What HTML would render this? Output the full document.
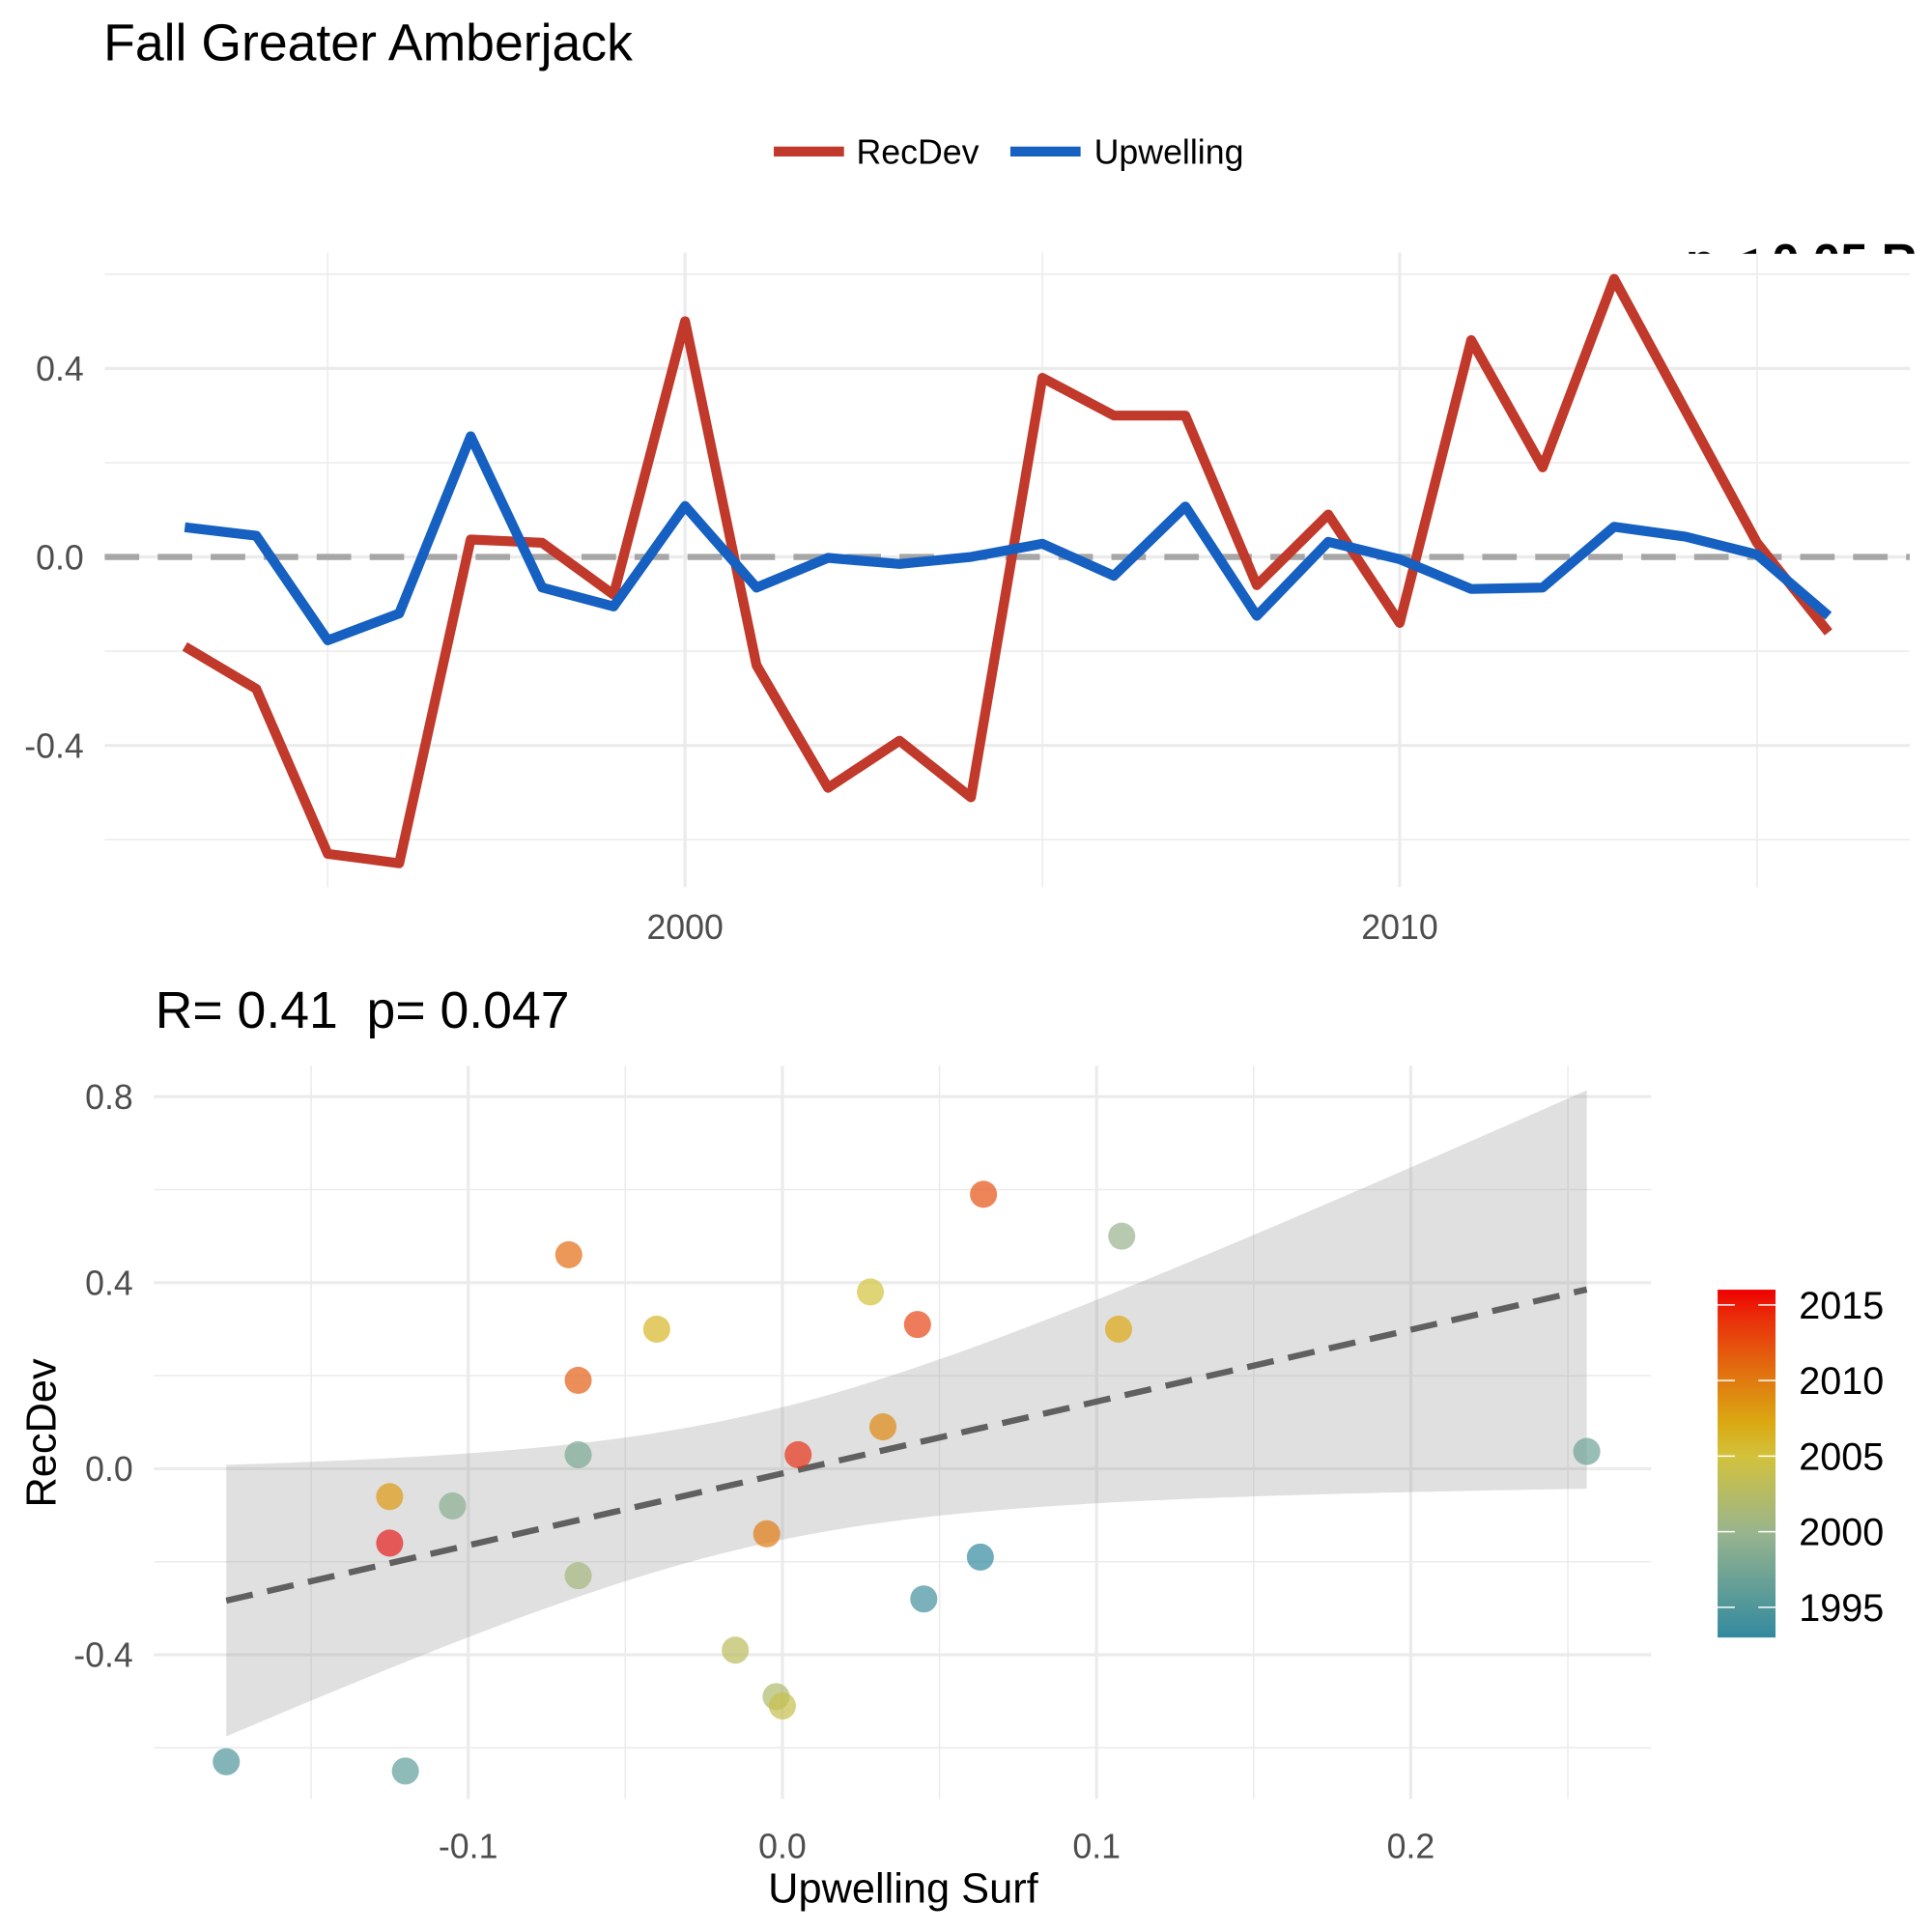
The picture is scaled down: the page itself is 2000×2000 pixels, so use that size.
<!DOCTYPE html>
<html><head><meta charset="utf-8"><style>html,body{margin:0;padding:0;background:#fff}svg{display:block;font-family:"Liberation Sans",Arial,sans-serif}</style></head>
<body>
<svg id="chart" width="2000" height="2000" viewBox="0 0 1568 1568" xmlns="http://www.w3.org/2000/svg">
<defs>
<linearGradient id="cbar" x1="0" y1="1" x2="0" y2="0">
<stop offset="0" stop-color="#328a9f"/><stop offset="0.3" stop-color="#98b48e"/><stop offset="0.52" stop-color="#d2c23c"/><stop offset="0.62" stop-color="#dba812"/><stop offset="0.74" stop-color="#e07a10"/><stop offset="0.92" stop-color="#ea2e0a"/><stop offset="1" stop-color="#ee0000"/>
</linearGradient>
<clipPath id="pclip"><rect x="0" y="180" width="1568" height="26"/></clipPath>
</defs>
<text x="84" y="49" font-size="42" fill="#000">Fall Greater Amberjack</text>
<g>
<line x1="628" y1="123" x2="685" y2="123" stroke="#c0392b" stroke-width="8"/>
<text x="695" y="133" font-size="28">RecDev</text>
<line x1="820" y1="123" x2="877" y2="123" stroke="#1560c0" stroke-width="8"/>
<text x="888" y="133" font-size="28">Upwelling</text>
</g>
<text x="1368" y="226" font-size="40" font-weight="bold" clip-path="url(#pclip)">p &lt; 0.05 R</text>
<g id="topg"></g>
<text x="126" y="834" font-size="42" xml:space="preserve">R= 0.41  p= 0.047</text>
<g id="botg"></g>
<g>
<rect x="1394" y="1046.7" width="47" height="282.3" fill="url(#cbar)"/>
<g id="cbticks"></g>
</g>
<text x="733" y="1544" font-size="34" text-anchor="middle">Upwelling Surf</text>
<text transform="translate(45,1163) rotate(-90)" font-size="34" text-anchor="middle">RecDev</text>
</svg>
<script>
const years=[1993,1994,1995,1996,1997,1998,1999,2000,2001,2002,2003,2004,2005,2006,2007,2008,2009,2010,2011,2012,2013,2014,2015,2016];
const recdev=[-0.19,-0.28,-0.63,-0.65,0.037,0.03,-0.08,0.50,-0.23,-0.49,-0.39,-0.51,0.38,0.30,0.30,-0.06,0.09,-0.14,0.46,0.19,0.59,0.31,0.03,-0.16];
const upwelling=[0.063,0.045,-0.177,-0.12,0.256,-0.065,-0.105,0.108,-0.065,-0.002,-0.015,0.0,0.028,-0.04,0.107,-0.125,0.032,-0.005,-0.068,-0.065,0.064,0.043,0.005,-0.125];
const topYTicks=[0.4,0.0,-0.4];
const topXTicks=[2000,2010];
const botXTicks=[-0.1,0.0,0.1,0.2];
const botYTicks=[0.8,0.4,0.0,-0.4];
const cbTicks=[1995,2000,2005,2010,2015];
const NS="http://www.w3.org/2000/svg";
function mk(tag,attrs,parent){const e=document.createElementNS(NS,tag);for(const k in attrs)e.setAttribute(k,attrs[k]);parent.appendChild(e);return e;}
const topG=document.getElementById('topg'),botG=document.getElementById('botg');
const tx=y=>556+(y-2000)*58, ty=v=>452-v*382.5;
const TL=85,TR=1550,TT=205,TB=720;
for(let v=-0.6;v<=0.61;v+=0.2){const l=mk('line',{x1:TL,x2:TR,y1:ty(v),y2:ty(v),stroke:'#ebebeb','stroke-width':Math.abs(Math.round(v*10))%4===0?2.5:1.2},topG);}
for(let y=1995;y<=2015;y+=5){const l=mk('line',{x1:tx(y),x2:tx(y),y1:TT,y2:TB,stroke:'#ebebeb','stroke-width':y%10===0?2.5:1.2},topG);}
topYTicks.forEach(v=>{const t=mk('text',{x:68,y:ty(v)+10,'font-size':28,fill:'#4d4d4d','text-anchor':'end'},topG);t.textContent=v.toFixed(1);});
topXTicks.forEach(v=>{const t=mk('text',{x:tx(v),y:762,'font-size':28,fill:'#4d4d4d','text-anchor':'middle'},topG);t.textContent=v;});
const zl=mk('line',{x1:TL,x2:TR,y1:ty(0),y2:ty(0),stroke:'#a6a6a6','stroke-width':5,'stroke-dasharray':'28 15'},topG);

const rl=mk('polyline',{points:years.map((y,i)=>tx(y)+','+ty(recdev[i])).join(' '),fill:'none',stroke:'#c0392b','stroke-width':8,'stroke-linejoin':'round'},topG);

const ul=mk('polyline',{points:years.map((y,i)=>tx(y)+','+ty(upwelling[i])).join(' '),fill:'none',stroke:'#1560c0','stroke-width':8,'stroke-linejoin':'round'},topG);

const bx=u=>635+u*2550, by=v=>1192-v*377.5;
const BL=125,BR=1340,BT=865,BB=1460;
for(let v=-0.6;v<=0.81;v+=0.2){const l=mk('line',{x1:BL,x2:BR,y1:by(v),y2:by(v),stroke:'#ebebeb','stroke-width':Math.abs(Math.round(v*10))%4===0?2.5:1.2},botG);}
for(let u=-0.15;u<=0.26;u+=0.05){const k=Math.round(u*100);const l=mk('line',{x1:bx(u),x2:bx(u),y1:BT,y2:BB,stroke:'#ebebeb','stroke-width':k%10===0?2.5:1.2},botG);}
botXTicks.forEach(v=>{const t=mk('text',{x:bx(v),y:1508,'font-size':28,fill:'#4d4d4d','text-anchor':'middle'},botG);t.textContent=v.toFixed(1);});
botYTicks.forEach(v=>{const t=mk('text',{x:108,y:by(v)+10,'font-size':28,fill:'#4d4d4d','text-anchor':'end'},botG);t.textContent=v.toFixed(1);});
const n=years.length,mx=upwelling.reduce((a,b)=>a+b)/n,my=recdev.reduce((a,b)=>a+b)/n;
let sxx=0,sxy=0;for(let i=0;i<n;i++){sxx+=(upwelling[i]-mx)**2;sxy+=(upwelling[i]-mx)*(recdev[i]-my);}
const b1=sxy/sxx,b0=my-b1*mx;let sse=0;for(let i=0;i<n;i++)sse+=(recdev[i]-b0-b1*upwelling[i])**2;
const s=Math.sqrt(sse/(n-2)),tq=2.074;
const xmin=Math.min(...upwelling),xmax=Math.max(...upwelling);
const up=[],lo=[];for(let k=0;k<=80;k++){const x=xmin+(xmax-xmin)*k/80,f=b0+b1*x,se=s*Math.sqrt(1/n+(x-mx)**2/sxx);up.push(bx(x)+','+by(f+tq*se));lo.unshift(bx(x)+','+by(f-tq*se));}
const rib=mk('polygon',{points:up.concat(lo).join(' '),fill:'#999','fill-opacity':0.3},botG);

const fit=mk('line',{x1:bx(xmin),y1:by(b0+b1*xmin),x2:bx(xmax),y2:by(b0+b1*xmax),stroke:'#606060','stroke-width':5,'stroke-dasharray':'22 12'},botG);

const stops=[[1993,[50,138,159]],[2000,[152,180,142]],[2005,[210,194,60]],[2007,[219,168,18]],[2010,[224,122,16]],[2014.5,[232,60,20]],[2016,[230,30,30]]];
function col(y){for(let i=0;i<stops.length-1;i++){const[a,ca]=stops[i],[b,cb]=stops[i+1];if(y<=b){const t=(y-a)/(b-a);return 'rgb('+ca.map((c,j)=>Math.round(c+(cb[j]-c)*t)).join(',')+')';}}return 'rgb(230,30,30)';}
years.forEach((y,i)=>{const c=mk('circle',{cx:bx(upwelling[i]),cy:by(recdev[i]),r:11,fill:col(y),'fill-opacity':0.7},botG);});
const cbG=document.getElementById('cbticks'),cy=y=>1329-(y-1993)*12.27;
cbTicks.forEach(y=>{const a=mk('line',{x1:1394,x2:1408,y1:cy(y),y2:cy(y),stroke:'#fff','stroke-width':1.2},cbG);
const b=mk('line',{x1:1427,x2:1441,y1:cy(y),y2:cy(y),stroke:'#fff','stroke-width':1.2},cbG);
const t=mk('text',{x:1460,y:cy(y)+11,'font-size':31,fill:'#000'},cbG);t.textContent=y;});
</script>
</body></html>
